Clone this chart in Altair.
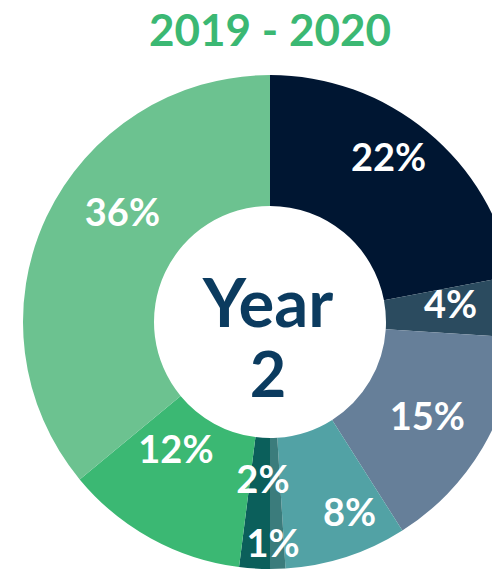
import altair as alt
import pandas as pd

# ---- data ----
labels = ["22%", "4%", "15%", "8%", "1%", "2%", "12%", "36%"]
values = [22, 4, 15, 8, 1, 2, 12, 36]
order_idx = [0, 1, 2, 3, 4, 5, 6, 7]
colors = ["#001632", "#2b4b5f", "#667f99", "#52a2a5", "#3b7c7c", "#0b5f5b", "#3bb873", "#6cc290"]
title_text = "2019 - 2020"
center_lines = ["Year", "2"]

df = pd.DataFrame({"label": labels, "value": values, "idx": order_idx})

FONT = "Lato"
CX, CY = 262, 314  # donut centre in plot coordinates

base = alt.Chart(df).encode(
    theta=alt.Theta("value:Q", stack=True),
    order=alt.Order("idx:Q"),
)

arc = base.mark_arc(outerRadius=247, innerRadius=116).encode(
    x=alt.value(CX),
    y=alt.value(CY),
    color=alt.Color("label:N", scale=alt.Scale(domain=labels, range=colors), legend=None),
)

# label placement tweaks (radius, dx, dy) per slice
placement = {
    "22%": (200, -9, -8),
    "4%": (183, -2, -4),
    "15%": (185, -2, 3),
    "8%": (209, 15, -6),
    "1%": (224, -4, 0),
    "2%": (160, 3, 0),
    "12%": (160, -17, -10),
    "36%": (183, 18, -29),
}

label_layers = []
for lab in labels:
    r, dx, dy = placement[lab]
    label_layers.append(
        base.mark_text(
            radius=r, dx=dx, dy=dy, font=FONT, fontSize=38, fontWeight="bold",
            color="white", align="center", baseline="middle",
        ).encode(
            x=alt.value(CX),
            y=alt.value(CY),
            text=alt.condition(f"datum.label == '{lab}'", "label:N", alt.value("")),
        )
    )

title = alt.Chart(pd.DataFrame({"t": [title_text]})).mark_text(
    font=FONT, fontSize=44, fontWeight="bold", color="#3bb873",
    align="center", baseline="alphabetic",
).encode(text="t:N", x=alt.value(CX), y=alt.value(38))

year = alt.Chart(pd.DataFrame({"t": [center_lines[0]]})).mark_text(
    font=FONT, fontSize=67, fontWeight="bold", color="#0b3b5f",
    align="center", baseline="alphabetic",
).encode(text="t:N", x=alt.value(CX - 2), y=alt.value(319))

num = alt.Chart(pd.DataFrame({"t": [center_lines[1]]})).mark_text(
    font=FONT, fontSize=63, fontWeight="bold", color="#0b3b5f",
    align="center", baseline="alphabetic",
).encode(text="t:N", x=alt.value(CX - 2), y=alt.value(389))

chart = alt.layer(arc, *label_layers, title, year, num).properties(
    width=484, height=561, padding=0, autosize="none"
).configure_view(stroke=None)

chart.save("out.html", embed_options={"renderer": "svg", "actions": False})
